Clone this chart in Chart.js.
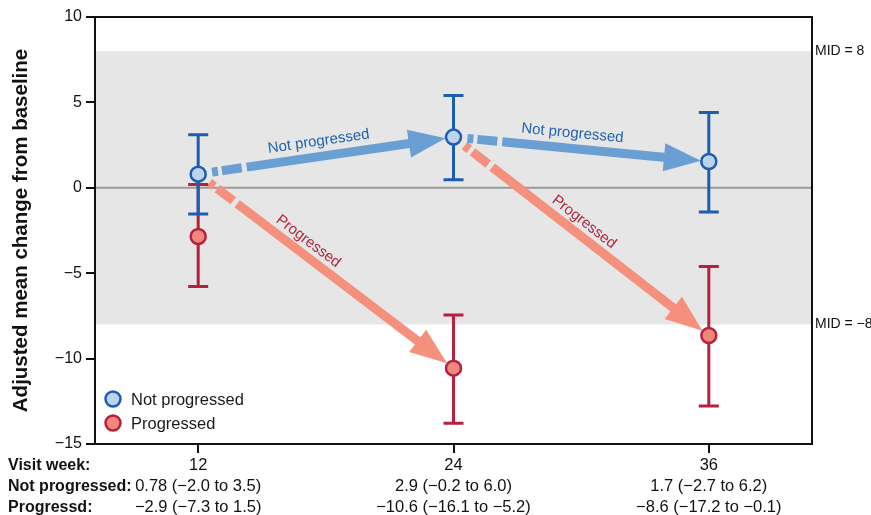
<!DOCTYPE html>
<html><head><meta charset="utf-8">
<script src="https://cdn.jsdelivr.net/npm/chart.js@4"></script>
<style>html,body{margin:0;padding:0;background:#fff}#wrap{width:871px;height:515px;position:relative}</style>
</head><body><div id="wrap"><canvas id="c"></canvas></div>
<script>
// ---- data ----
const weeks = [12, 24, 36];
const weekLabels = ["12", "24", "36"];
const seriesNames = ["Not progressed", "Progressed"];
const notProgMean = [0.80, 2.97, 1.54];
const notProgLow  = [-1.54, 0.47, -1.42];
const notProgHigh = [3.10, 5.41, 4.41];
const progMean = [-2.85, -10.56, -8.65];
const progLow  = [-5.78, -13.78, -12.77];
const progHigh = [0.20, -7.44, -4.61];
const rowLabels = ["Visit week:", "Not progressed:", "Progressd:"];
const notProgText = ["0.78 (\u22122.0 to 3.5)", "2.9 (\u22120.2 to 6.0)", "1.7 (\u22122.7 to 6.2)"];
const progText = ["\u22122.9 (\u22127.3 to 1.5)", "\u221210.6 (\u221216.1 to \u22125.2)", "\u22128.6 (\u221217.2 to \u22120.1)"];
const yTicks = [10, 5, 0, -5, -10, -15];
const midValues = [8, -8];
const midLabels = ["MID = 8", "MID = \u22128"];
const yTitle = "Adjusted mean change from baseline";
// transitions: [fromSeries, fromIndex, toSeries, toIndex]
const transitions = [[0, 0, 0, 1], [0, 1, 0, 2], [0, 0, 1, 1], [0, 1, 1, 2]];
const transitionLabels = ["Not progressed", "Not progressed", "Progressed", "Progressed"];

// ---- style ----
const FONT = "'Liberation Sans', Arial, Helvetica, sans-serif";
const means = [notProgMean, progMean], lows = [notProgLow, progLow], highs = [notProgHigh, progHigh];
const barColor = ["#1d5db0", "#b5213f"];
const fillColor = ["#bdd4ee", "#f0877a"];
const arrowColor = ["#6a9fd3", "#f4907c"];
const textColor = ["#1f63b2", "#b0283f"];
const labelFrac = [0.48, 0.46, 0.40, 0.48];
const labelOff = [15, 15, 13, 13];

function fmt(v){ return v < 0 ? "\u2212" + Math.abs(v) : String(v); }

function drawArrow(ctx, p0, p1, color){
  const dx = p1.x - p0.x, dy = p1.y - p0.y, L = Math.hypot(dx, dy);
  const ux = dx / L, uy = dy / L, nx = -uy, ny = ux;
  const s = 14, e = L - 8, headLen = 37, headW = 14;
  const pt = t => [p0.x + ux * t, p0.y + uy * t];
  ctx.strokeStyle = color; ctx.lineWidth = 9; ctx.lineCap = 'butt';
  [[s, s + 6], [s + 10, s + 30], [s + 35, e - headLen + 2]].forEach(([a, b]) => {
    ctx.beginPath(); ctx.moveTo(...pt(a)); ctx.lineTo(...pt(b)); ctx.stroke();
  });
  const [bx, by] = pt(e - headLen), [tx, ty] = pt(e);
  ctx.fillStyle = color;
  ctx.beginPath(); ctx.moveTo(tx, ty);
  ctx.lineTo(bx + nx * headW, by + ny * headW);
  ctx.lineTo(bx - nx * headW, by - ny * headW);
  ctx.closePath(); ctx.fill();
  return {ux, uy, L};
}

const plugin = {
  id: 'decor',
  beforeDatasetsDraw(chart){
    const {ctx, chartArea: a, scales: {x, y}} = chart;
    ctx.save();
    const yt = y.getPixelForValue(midValues[0]), yb = y.getPixelForValue(midValues[1]);
    ctx.fillStyle = '#e6e6e6';
    ctx.fillRect(a.left, yt, a.right - a.left, yb - yt);
    const y0 = y.getPixelForValue(0);
    ctx.strokeStyle = '#9a9a9a'; ctx.lineWidth = 2;
    ctx.beginPath(); ctx.moveTo(a.left, y0); ctx.lineTo(a.right, y0); ctx.stroke();
    const order = [2, 3, 0, 1];
    order.forEach(k => {
      const [fs, fi, ts, ti] = transitions[k];
      const p0 = {x: x.getPixelForValue(weeks[fi]), y: y.getPixelForValue(means[fs][fi])};
      const p1 = {x: x.getPixelForValue(weeks[ti]), y: y.getPixelForValue(means[ts][ti])};
      const kind = ts;
      const r = drawArrow(ctx, p0, p1, arrowColor[kind]);
      const ang = Math.atan2(r.uy, r.ux);
      const t = labelFrac[k] * r.L;
      const cx = p0.x + r.ux * t + r.uy * labelOff[k];
      const cy = p0.y + r.uy * t - r.ux * labelOff[k];
      ctx.save();
      ctx.translate(cx, cy); ctx.rotate(ang);
      ctx.fillStyle = textColor[kind];
      ctx.font = "15px " + FONT;
      ctx.textAlign = 'center'; ctx.textBaseline = 'middle';
      ctx.fillText(transitionLabels[k], 0, 0);
      ctx.restore();
    });
    [1, 0].forEach(s => {
      ctx.strokeStyle = barColor[s]; ctx.lineWidth = 3; ctx.lineCap = 'butt';
      weeks.forEach((w, i) => {
        const px = x.getPixelForValue(w);
        const ylo = y.getPixelForValue(lows[s][i]), yhi = y.getPixelForValue(highs[s][i]);
        ctx.beginPath();
        ctx.moveTo(px, ylo); ctx.lineTo(px, yhi);
        ctx.moveTo(px - 10, ylo); ctx.lineTo(px + 10, ylo);
        ctx.moveTo(px - 10, yhi); ctx.lineTo(px + 10, yhi);
        ctx.stroke();
      });
    });
    ctx.restore();
  },
  afterDraw(chart){
    const {ctx, chartArea: a, scales: {x, y}} = chart;
    ctx.save();
    ctx.strokeStyle = '#111'; ctx.lineWidth = 2;
    ctx.strokeRect(a.left, a.top, a.right - a.left, a.bottom - a.top);
    ctx.fillStyle = '#111'; ctx.font = "14px " + FONT;
    ctx.textAlign = 'left'; ctx.textBaseline = 'middle';
    midValues.forEach((v, i) => ctx.fillText(midLabels[i], a.right + 3, y.getPixelForValue(v)));
    seriesNames.forEach((n, i) => {
      const ly = a.bottom - 45 + i * 24, lx = a.left + 18;
      ctx.beginPath(); ctx.arc(lx, ly, 7.5, 0, Math.PI * 2);
      ctx.fillStyle = fillColor[i]; ctx.fill();
      ctx.lineWidth = 2.5; ctx.strokeStyle = barColor[i]; ctx.stroke();
      ctx.fillStyle = '#1a1a1a'; ctx.font = "16.5px " + FONT;
      ctx.fillText(n, lx + 18, ly + 1);
    });
    ctx.font = "bold 16px " + FONT; ctx.fillStyle = '#111';
    const lh = 21, base = x.top + 9 + 2;
    rowLabels.forEach((t, i) => ctx.fillText(t, 8, base + lh * (i + 0.5)));
    ctx.restore();
  }
};

const chart = new Chart(document.getElementById('c'), {
  type: 'scatter',
  data: {
    datasets: seriesNames.map((n, s) => ({
      label: n,
      data: weeks.map((w, i) => ({x: w, y: means[s][i]})),
      pointRadius: 7.5, pointHoverRadius: 7.5,
      pointBackgroundColor: fillColor[s], pointBorderColor: barColor[s], pointBorderWidth: 2.5,
      showLine: false
    }))
  },
  options: {
    responsive: true, maintainAspectRatio: false, animation: false,
    layout: {padding: {left: 0, right: 59, top: 17, bottom: 0}},
    plugins: {legend: {display: false}, tooltip: {enabled: false}},
    scales: {
      x: {
        type: 'linear', min: 7.15, max: 40.85,
        afterBuildTicks: s => { s.ticks = weeks.map(v => ({value: v})); },
        afterFit: s => { s.height = 71; },
        ticks: {
          autoSkip: false, maxRotation: 0, minRotation: 0, padding: 2,
          color: '#111', font: {family: FONT, size: 16.5, lineHeight: 1.27},
          callback: v => { const i = weeks.indexOf(v); return [weekLabels[i], notProgText[i], progText[i]]; }
        },
        grid: {drawOnChartArea: false, drawTicks: true, tickLength: 9, color: '#111', lineWidth: 2},
        border: {display: true, color: '#111', width: 2}
      },
      y: {
        min: -15, max: 10,
        afterBuildTicks: s => { s.ticks = yTicks.map(v => ({value: v})); },
        afterFit: s => { s.width = 95; },
        ticks: {padding: 4, color: '#111', font: {family: FONT, size: 16}, callback: v => fmt(v)},
        grid: {drawOnChartArea: false, drawTicks: true, tickLength: 9, color: '#111', lineWidth: 2},
        border: {display: true, color: '#111', width: 2},
        title: {display: true, text: yTitle, color: '#111', font: {family: FONT, size: 20.5, weight: 'bold'}, padding: {top: 9, bottom: 0}}
      }
    }
  },
  plugins: [plugin]
});
</script></body></html>
